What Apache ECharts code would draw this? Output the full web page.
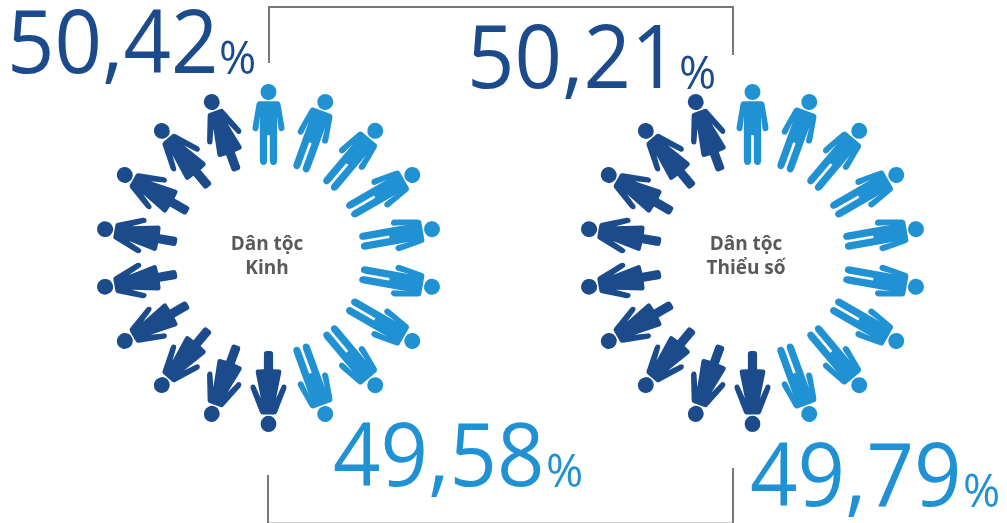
<!DOCTYPE html>
<html>
<head>
<meta charset="utf-8">
<style>
  html, body { margin: 0; padding: 0; background: #fff; }
  #main { width: 1007px; height: 523px; }
</style>
</head>
<body>
<div id="main"></div>
<script src="https://cdn.jsdelivr.net/npm/echarts@6/dist/echarts.min.js"></script>
<script>
  // seat numbers around each ring, clockwise from 12 o'clock, 18 seats in total
  var kinhMaleSeats = [0, 1, 2, 3, 4, 5, 6, 7, 8];
  var kinhFemaleSeats = [9, 10, 11, 12, 13, 14, 15, 16, 17];
  var minorityMaleSeats = [0, 1, 2, 3, 4, 5, 6, 7, 8];
  var minorityFemaleSeats = [9, 10, 11, 12, 13, 14, 15, 16, 17];
  var seatCount = 18;

  var femaleLabels = ['50,42', '50,21'];
  var maleLabels = ['49,58', '49,79'];
  var ringNames = [['Dân tộc', 'Kinh'], ['Dân tộc', 'Thiểu số']];

  var DARK = '#1b4b8a';
  var LIGHT = '#2092d3';
  var GREY = '#77787b';
  var FONT = '"Open Sans", "Noto Sans", sans-serif';

  var malePath = 'path://M24 36a24 24 0 1 1 48 0a24 24 0 1 1 -48 0z' +
    'M20 64L76 64Q82 64 84 72L96 142Q97 152 88 154Q80 155 78 146L74 108L74 240Q74 255 63 255Q52 255 52 240L52 166L44 166L44 240Q44 255 33 255Q22 255 22 240L22 108L18 146Q16 155 8 154Q-1 152 0 142L12 72Q14 64 20 64Z';
  var femalePath = 'path://M31 36a24 24 0 1 1 48 0a24 24 0 1 1 -48 0z' +
    'M37 64L73 64Q79 64 81 70L109 140Q112 150 104 153Q97 155 94 147L78 112L94 190Q95 197 88 198L69 199L69 245Q69 253 60 253L50 253Q41 253 41 245L41 199L22 198Q15 197 16 190L32 112L16 147Q13 155 6 153Q-2 150 1 140L29 70Q31 64 37 64Z';

  function ringSeries (seats, polarIndex, path, size, color) {
    return {
      type: 'scatter',
      coordinateSystem: 'polar',
      polarIndex: polarIndex,
      symbol: path,
      symbolSize: size,
      symbolRotate: function (value) {
        return -value[1] * 360 / seatCount;
      },
      itemStyle: { color: color, opacity: 1 },
      silent: true,
      data: seats.map(function (seat) { return [1, seat]; })
    };
  }

  // big number with a smaller percent sign on the same baseline
  function percentText (label, x, pctX, baseline, color) {
    return [{
      type: 'text', x: x, y: baseline + 17, scaleX: 0.955,
      style: { text: label, fill: color, font: '87px ' + FONT, verticalAlign: 'bottom' }
    }, {
      type: 'text', x: pctX, y: baseline + 9,
      style: { text: '%', fill: color, font: '45px ' + FONT, verticalAlign: 'bottom' }
    }];
  }

  function centerText (lines, x) {
    return lines.map(function (line, i) {
      return {
        type: 'text', x: x, y: 245 + i * 24,
        style: { text: line, fill: '#58595b', font: 'bold 19px ' + FONT, align: 'center', verticalAlign: 'middle' }
      };
    });
  }

  function bracket (points, color, width) {
    return {
      type: 'polyline',
      shape: { points: points },
      style: { stroke: color, lineWidth: width, fill: null }
    };
  }

  var myChart = echarts.init(document.getElementById('main'), null, { renderer: 'canvas' });
  myChart.setOption({
    animation: false,
    backgroundColor: '#fff',
    polar: [
      { center: [268.5, 258], radius: 133.5 },
      { center: [752.5, 258], radius: 133.5 }
    ],
    angleAxis: [
      { polarIndex: 0, type: 'value', min: 0, max: seatCount, startAngle: 90, show: false },
      { polarIndex: 1, type: 'value', min: 0, max: seatCount, startAngle: 90, show: false }
    ],
    radiusAxis: [
      { polarIndex: 0, min: 0, max: 1, show: false },
      { polarIndex: 1, min: 0, max: 1, show: false }
    ],
    series: [
      ringSeries(kinhMaleSeats, 0, malePath, [32, 81], LIGHT),
      ringSeries(kinhFemaleSeats, 0, femalePath, [36, 81], DARK),
      ringSeries(minorityMaleSeats, 1, malePath, [32, 81], LIGHT),
      ringSeries(minorityFemaleSeats, 1, femalePath, [36, 81], DARK)
    ],
    graphic: [
      bracket([[269, 63], [269, 7], [733, 7], [733, 55]], GREY, 2),
      bracket([[268, 522.5], [733, 522.5]], '#c9c9cb', 1),
      bracket([[268, 475], [268, 523]], GREY, 2),
      bracket([[733, 468], [733, 523]], GREY, 2)
    ].concat(
      percentText(femaleLabels[0], 7, 219, 75, DARK),
      percentText(femaleLabels[1], 467, 679, 90, DARK),
      percentText(maleLabels[0], 333, 546, 488, LIGHT),
      percentText(maleLabels[1], 750, 963, 508, LIGHT),
      centerText(ringNames[0], 267),
      centerText(ringNames[1], 746)
    )
  });
</script>
</body>
</html>
